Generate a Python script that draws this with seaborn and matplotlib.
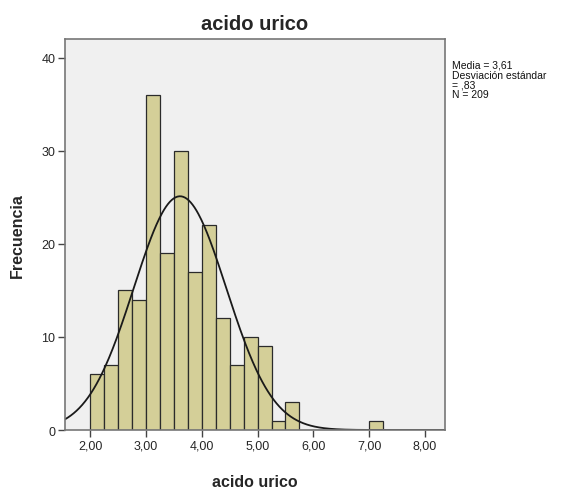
import numpy as np
import pandas as pd
import matplotlib
matplotlib.use("Agg")
import matplotlib.pyplot as plt
import seaborn as sns

# Data
bin_left = [2.00, 2.25, 2.50, 2.75, 3.00, 3.25, 3.50, 3.75, 4.00, 4.25, 4.50,
            4.75, 5.00, 5.25, 5.50, 5.75, 6.00, 6.25, 6.50, 6.75, 7.00]
counts = [6, 7, 15, 14, 36, 19, 30, 17, 22, 12, 7, 10, 9, 1, 3, 0, 0, 0, 0, 0, 1]
bin_width = 0.25
mean_val = 3.61
sd_val = 0.83
n_val = 209
x_ticks = [2, 3, 4, 5, 6, 7, 8]
x_tick_labels = ["2,00", "3,00", "4,00", "5,00", "6,00", "7,00", "8,00"]
y_ticks = [0, 10, 20, 30, 40]

sns.set_theme(style="white")
plt.rcParams['font.family'] = ['Liberation Sans', 'DejaVu Sans']

df = pd.DataFrame({"x": [b + bin_width / 2 for b in bin_left], "w": counts})
edges = list(bin_left) + [bin_left[-1] + bin_width]

fig = plt.figure(figsize=(5.81, 4.89), dpi=100)
ax = fig.add_axes([0.112, 0.1186, 0.654, 0.7994])
ax.set_facecolor("#f0f0f0")

sns.histplot(data=df, x="x", weights="w", bins=edges, ax=ax,
             color="#d4cf98", edgecolor="#2b2b2b", linewidth=0.9, alpha=1.0)

xmin, xmax = 1.55, 8.36
xs = np.linspace(xmin, xmax, 400)
ys = n_val * bin_width / (sd_val * np.sqrt(2 * np.pi)) * np.exp(-0.5 * ((xs - mean_val) / sd_val) ** 2)
sns.lineplot(x=xs, y=ys, ax=ax, color="#1a1a1a", linewidth=1.3)

ax.set_xlim(xmin, xmax)
ax.set_ylim(0, 42)
ax.set_xticks(x_ticks)
ax.set_xticklabels(x_tick_labels)
ax.set_yticks(y_ticks)
ax.tick_params(axis="both", which="both", direction="out", length=5, width=1,
               color="#444444", labelsize=9, pad=2, bottom=True, left=True)
for s in ax.spines.values():
    s.set_color("#777777")
    s.set_linewidth(1.2)

ax.set_title("acido urico", fontsize=14.5, fontweight="bold", pad=7)
ax.set_xlabel("acido urico", fontsize=11.5, fontweight="bold", labelpad=16)
ax.set_ylabel("Frecuencia", fontsize=11.5, fontweight="bold", labelpad=12)

fig.text(452 / 581, 1 - 61 / 489,
         "Media = 3,61\nDesviación estándar\n= ,83\nN = 209",
         fontsize=7.5, va="top", ha="left", linespacing=0.95, color="#111111")

fig.savefig("out.png", dpi=100, facecolor="white")
